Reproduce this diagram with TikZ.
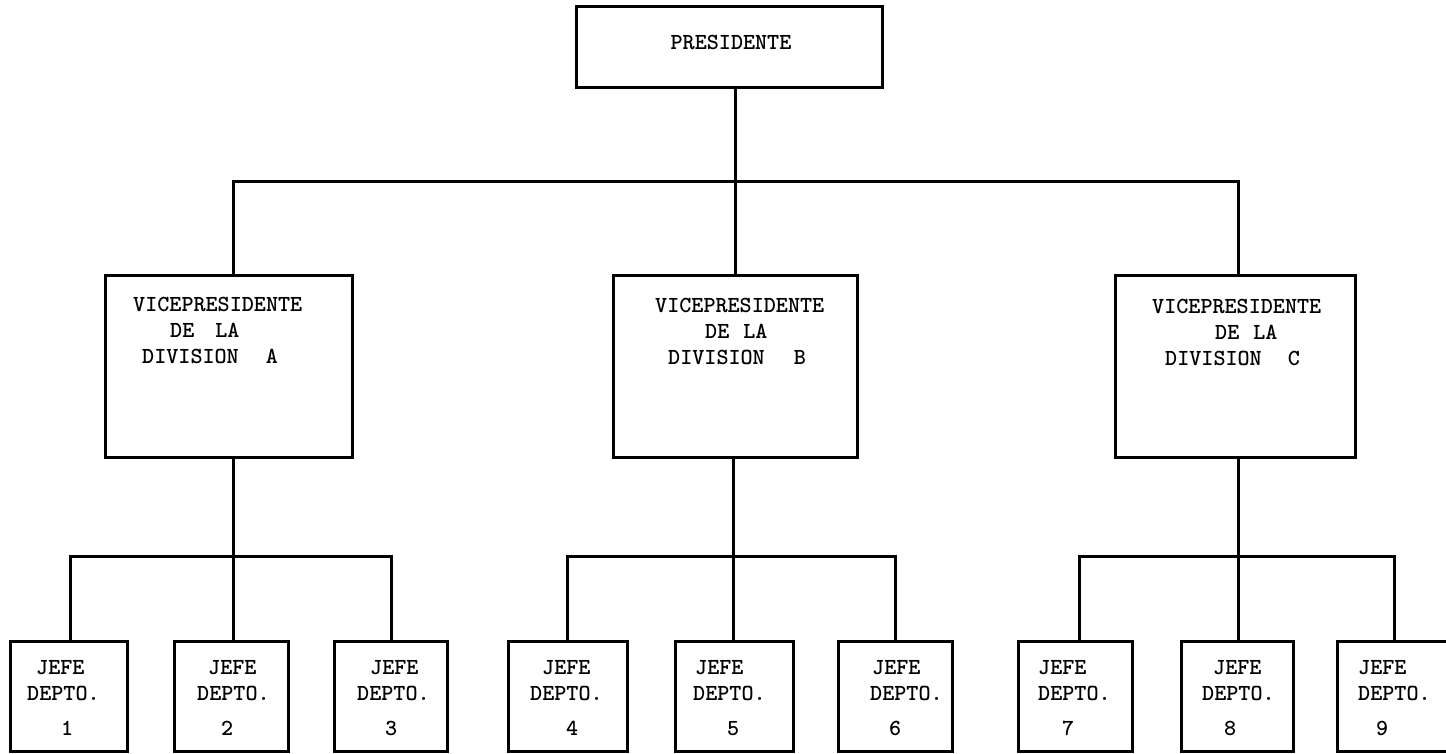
\documentclass[tikz,border=0pt]{standalone}
\usepackage{fontspec}
\newfontfamily\typew{lmmonolt10-bold.otf}
\newcommand{\typeface}{\typew\fontsize{23}{26}\selectfont}
\begin{document}
\begin{tikzpicture}[x=1pt,y=-1pt,
  frame/.style={draw, rectangle, line width=3pt, inner sep=0pt, outer sep=0pt},
  vpbox/.style={frame, minimum height=182pt},
  deptbox/.style={frame, minimum height=110pt},
  wire/.style={line width=3pt, line cap=rect},
  lbl/.style={inner sep=0pt, anchor=north west, align=left, font=\typeface}]
\useasboundingbox (0,0) rectangle (1446,754);
\clip (0,0) rectangle (1446,754);

% top level
\node[frame, minimum width=306pt, minimum height=81pt] (pres) at (729,47.5) {};
\node[inner sep=0pt, font=\typeface] (presT) at (731,42) {PRESIDENTE};

% vice presidents
\node[vpbox, minimum width=247pt] (vpA) at (228.5,366) {};
\node[vpbox, minimum width=244pt] (vpB) at (735,366) {};
\node[vpbox, minimum width=240pt] (vpC) at (1235,366) {};
\node[lbl] (vpAt) at (133,297) {VICEPRESIDENTE\\\hspace*{37pt}DE\hspace{21pt}LA\\\hspace*{9pt}DIVISION\hspace{27pt}A};
\node[lbl] (vpBt) at (655,297.5) {VICEPRESIDENTE\\\hspace*{50pt}DE\hspace{14pt}LA\\\hspace*{13pt}DIVISION\hspace{29pt}B};
\node[lbl] (vpCt) at (1152,298.5) {VICEPRESIDENTE\\\hspace*{63pt}DE\hspace{14pt}LA\\\hspace*{13pt}DIVISION\hspace{26pt}C};

% department heads
\node[deptbox, minimum width=117pt] (d1) at (68.5,696) {};
\node[deptbox, minimum width=114pt] (d2) at (231,696) {};
\node[deptbox, minimum width=113pt] (d3) at (390.5,696) {};
\node[deptbox, minimum width=119pt] (d4) at (567.5,696) {};
\node[deptbox, minimum width=118pt] (d5) at (734,696) {};
\node[deptbox, minimum width=114pt] (d6) at (895,696) {};
\node[deptbox, minimum width=114pt] (d7) at (1075,696) {};
\node[deptbox, minimum width=112pt] (d8) at (1237,696) {};
\node[deptbox, minimum width=114pt] (d9) at (1394,696) {};

\node[lbl] (d1t) at (27,660)   {\hspace*{9pt}JEFE\\DEPTO.\\[9pt]\hspace*{34pt}1};
\node[lbl] (d2t) at (197,660)  {\hspace*{11pt}JEFE\\DEPTO.\\[9pt]\hspace*{24pt}2};
\node[lbl] (d3t) at (357,660)  {\hspace*{13pt}JEFE\\DEPTO.\\[9pt]\hspace*{28pt}3};
\node[lbl] (d4t) at (530,660)  {\hspace*{12pt}JEFE\\DEPTO.\\[9pt]\hspace*{36pt}4};
\node[lbl] (d5t) at (693,660)  {\hspace*{2pt}JEFE\\DEPTO.\\[9pt]\hspace*{34pt}5};
\node[lbl] (d6t) at (870,660)  {\hspace*{2pt}JEFE\\DEPTO.\\[9pt]\hspace*{19pt}6};
\node[lbl] (d7t) at (1038,660) {JEFE\\DEPTO.\\[9pt]\hspace*{24pt}7};
\node[lbl] (d8t) at (1202,660) {\hspace*{11pt}JEFE\\DEPTO.\\[9pt]\hspace*{22pt}8};
\node[lbl] (d9t) at (1358,660) {JEFE\\DEPTO.\\[9pt]\hspace*{18pt}9};

% junction points on the horizontal bars
\coordinate (tA) at (233,182);
\coordinate (tB) at (735,182);
\coordinate (tC) at (1238,182);
\coordinate (s1) at (70,556);
\coordinate (s2) at (233,556);
\coordinate (s3) at (391,556);
\coordinate (s4) at (567,556);
\coordinate (s5) at (733,556);
\coordinate (s6) at (895,556);
\coordinate (s7) at (1079,556);
\coordinate (s8) at (1238,556);
\coordinate (s9) at (1394,556);

% president to vice presidents
\draw[wire] (pres.south -| tB) -- (vpB.north -| tB);
\draw[wire] (tA) -- (tC);
\draw[wire] (tA) -- (vpA.north -| tA);
\draw[wire] (tC) -- (vpC.north -| tC);

% vice presidents to department heads
\draw[wire] (vpA.south -| s2) -- (s2);
\draw[wire] (vpB.south -| s5) -- (s5);
\draw[wire] (vpC.south -| s8) -- (s8);
\draw[wire] (s1) -- (s3);
\draw[wire] (s4) -- (s6);
\draw[wire] (s7) -- (s9);
\draw[wire] (s1) -- (d1.north -| s1);
\draw[wire] (s2) -- (d2.north -| s2);
\draw[wire] (s3) -- (d3.north -| s3);
\draw[wire] (s4) -- (d4.north -| s4);
\draw[wire] (s5) -- (d5.north -| s5);
\draw[wire] (s6) -- (d6.north -| s6);
\draw[wire] (s7) -- (d7.north -| s7);
\draw[wire] (s8) -- (d8.north -| s8);
\draw[wire] (s9) -- (d9.north -| s9);
\end{tikzpicture}
\end{document}
